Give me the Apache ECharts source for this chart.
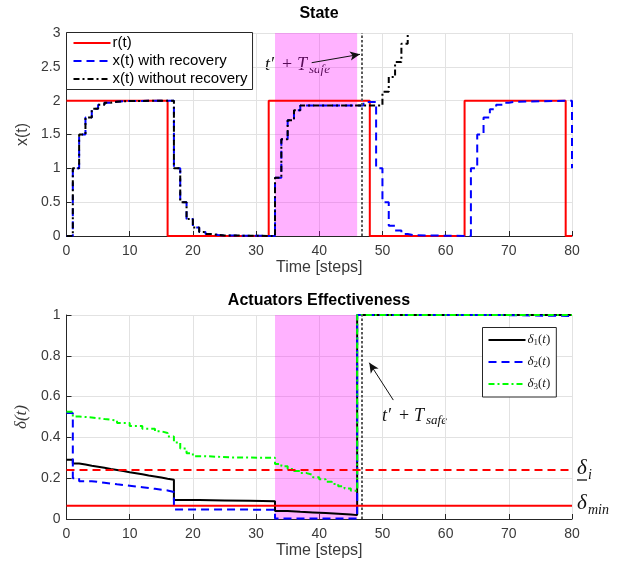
<!DOCTYPE html>
<html><head><meta charset="utf-8">
<script src="https://cdn.jsdelivr.net/npm/echarts@6.0.0/dist/echarts.min.js"></script>
<style>html,body{margin:0;padding:0;background:#fff}#c{width:621px;height:561px}</style>
</head><body><div id="c"></div>
<script>
// ---------- data ----------
const refT = [0,16,32,48,63,79,80];
const refV = [2,0,2,0,2,0,0];
const noRecT = [0,1,2,3,4,5,6,7,8,9,10,17,18,19,20,21,22,23,24,25,33,34,35,36,37,50,51,52,53,54,55];
const noRecV = [0,1,1.5,1.75,1.88,1.94,1.97,1.985,1.99,1.995,2,1,0.5,0.25,0.125,0.06,0.03,0.015,0.008,0,0.86,1.43,1.71,1.86,1.93,2.13,2.35,2.57,2.84,3.15,3.5];
const recT = [0,1,2,3,4,5,6,7,8,9,10,17,18,19,20,21,22,23,24,25,33,34,35,36,37,47,49,50,51,52,53,54,55,64,65,66,67,68,69,70,71,80];
const recV = [0,1,1.5,1.75,1.88,1.94,1.97,1.985,1.99,1.995,2,1,0.5,0.25,0.125,0.06,0.03,0.015,0.008,0,0.86,1.43,1.71,1.86,1.93,1.98,1,0.5,0.15,0.08,0.03,0.01,0,1,1.5,1.75,1.875,1.94,1.97,1.985,2,1];

const d1T = [0,1,2,3,4,5,6,7,8,9,10,11,12,13,14,15,16,17,21,25,29,33,35,37,39,41,43,45,46,80];
const d1V = [0.29,0.272,0.267,0.261,0.256,0.251,0.245,0.24,0.235,0.229,0.224,0.219,0.213,0.208,0.203,0.197,0.192,0.093,0.091,0.089,0.087,0.039,0.035,0.032,0.029,0.026,0.022,0.019,1,1];
const d2T = [0,1,2,4,6,8,10,12,14,16,17,25,33,46,68,80];
const d2V = [0.52,0.2,0.185,0.178,0.17,0.163,0.156,0.148,0.14,0.132,0.047,0.045,0.003,1,0.995,0.995];
const d3T = [0,1,2,4,6,8,10,12,14,15,16,17,18,19,20,22,26,33,34,35,36,37,38,39,40,41,42,43,44,45,46,80];
const d3V = [0.526,0.502,0.498,0.49,0.483,0.47,0.456,0.443,0.43,0.422,0.405,0.375,0.345,0.322,0.308,0.302,0.3,0.27,0.258,0.245,0.235,0.225,0.216,0.205,0.195,0.183,0.172,0.16,0.15,0.138,1,1];

const deltaI = 0.24;
const deltaMin = 0.065;
const faultStart = 33;
const faultEnd = 46;
const tSafe = 46.8;
const xTickStep = 10;
const topYStep = 0.5;
const botYStep = 0.2;

// ---------- helpers ----------
const SANS = '"Liberation Sans", Arial, Helvetica, sans-serif';
const SERIF = '"Liberation Serif", "Times New Roman", serif';
const zip = (t, v) => t.map((x, i) => [x, v[i]]);
const GRAY = '#3a3a3a';

function xAxis(idx) {
  return {
    type: 'value', gridIndex: idx, min: 0, max: 80, interval: xTickStep,
    axisLine: {show: true, onZero: false, lineStyle: {color: '#262626', width: 1}},
    axisTick: {show: true, inside: true, length: 5, lineStyle: {color: '#262626'}},
    axisLabel: {fontSize: 14, color: GRAY, fontFamily: SANS, margin: 8},
    splitLine: {show: true, lineStyle: {color: '#e2e2e2', width: 1}},
    name: 'Time [steps]', nameLocation: 'middle', nameGap: 24,
    nameTextStyle: {fontSize: 16, color: GRAY, fontFamily: SANS}
  };
}
function yAxis(idx, max, step, name, nameStyle) {
  return {
    type: 'value', gridIndex: idx, min: 0, max: max, interval: step,
    axisLine: {show: true, onZero: false, lineStyle: {color: '#262626', width: 1}},
    axisTick: {show: true, inside: true, length: 5, lineStyle: {color: '#262626'}},
    axisLabel: {fontSize: 14, color: GRAY, fontFamily: SANS, margin: 6},
    splitLine: {show: true, lineStyle: {color: '#e2e2e2', width: 1}},
    name: name, nameLocation: 'middle', nameGap: 36, nameRotate: 90,
    nameTextStyle: nameStyle
  };
}
function stepLine(name, idx, data, color, type, z) {
  return {
    name: name, type: 'line', xAxisIndex: idx, yAxisIndex: idx, data: data,
    step: 'end', showSymbol: false, symbol: 'none', clip: true, z: z,
    lineStyle: {color: color, width: 2, type: type, cap: 'butt'},
    itemStyle: {color: color}, animation: false
  };
}
function helper(idx, arrow) {
  return {
    type: 'line', xAxisIndex: idx, yAxisIndex: idx, data: [], z: 1, silent: true,
    animation: false,
    markArea: {silent: true, itemStyle: {color: 'rgba(255,0,255,0.3)'},
      data: [[{xAxis: faultStart}, {xAxis: faultEnd}]]},
    markLine: {silent: true, animation: false, symbol: 'none', label: {show: false},
      data: [
        {xAxis: tSafe, lineStyle: {color: '#5a5a5a', width: 2, type: [2.5, 2]}},
        [{coord: arrow[0], symbol: 'none', lineStyle: {color: '#111', width: 1, type: 'solid'}},
         {coord: arrow[1], symbol: 'arrow', symbolSize: [7, 10]}]
      ]}
  };
}

const DASH = [8, 5];
const DASHDOT = [6, 3, 2, 3];

const option = {
  backgroundColor: '#fff',
  animation: false,
  grid: [
    {left: 66.5, top: 33, width: 505.5, height: 203},
    {left: 66.5, top: 315, width: 505.5, height: 204}
  ],
  xAxis: [xAxis(0), xAxis(1)],
  yAxis: [
    yAxis(0, 3, topYStep, 'x(t)', {fontSize: 16, color: GRAY, fontFamily: SANS}),
    yAxis(1, 1, botYStep, 'δ(t)', {fontSize: 17, color: GRAY, fontFamily: SERIF, fontStyle: 'italic'})
  ],
  legend: [
    {
      data: ['r(t)', 'x(t) with recovery', 'x(t) without recovery'],
      orient: 'vertical', left: 66.5, top: 32.5, itemWidth: 37, itemHeight: 12, itemGap: 3,
      padding: [3, 5, 3, 6], borderColor: '#262626', borderWidth: 1, backgroundColor: '#fff',
      itemStyle: {opacity: 0},
      textStyle: {fontSize: 15, color: '#000', fontFamily: SANS, padding: [0, 0, 0, -3]},
      selectedMode: false, z: 10
    },
    {
      data: ['d1', 'd2', 'd3'],
      orient: 'vertical', left: 482.5, top: 327.5, itemWidth: 37, itemHeight: 14, itemGap: 8.5,
      padding: [6, 6, 6, 5], borderColor: '#262626', borderWidth: 1, backgroundColor: '#fff',
      itemStyle: {opacity: 0},
      formatter: n => '{i|δ}{s|' + n.slice(1) + '}{r|(}{i|t}{r|)}',
      textStyle: {color: '#222', padding: [0, 0, 0, -3], rich: {
        i: {fontFamily: SERIF, fontStyle: 'italic', fontSize: 13, color: '#222'},
        r: {fontFamily: SERIF, fontSize: 13, color: '#222'},
        s: {fontFamily: SERIF, fontSize: 9, color: '#222', padding: [5, 0, 0, 0]}
      }},
      selectedMode: false, z: 10
    }
  ],
  series: [
    helper(0, [[38.8, 2.561], [46.45, 2.685]]),
    helper(1, [[51.72, 0.583], [47.92, 0.766]]),
    stepLine('r(t)', 0, zip(refT, refV), '#ff0000', 'solid', 2),
    stepLine('x(t) with recovery', 0, zip(recT, recV), '#0000ff', DASH, 3),
    stepLine('x(t) without recovery', 0, zip(noRecT, noRecV), '#000000', DASHDOT, 4),
    stepLine('d1', 1, zip(d1T, d1V), '#000000', 'solid', 2),
    stepLine('d2', 1, zip(d2T, d2V), '#0000ff', DASH, 3),
    stepLine('d3', 1, zip(d3T, d3V), '#00ff00', DASHDOT, 4),
    {type: 'line', xAxisIndex: 1, yAxisIndex: 1, data: [[0, deltaI], [80, deltaI]], showSymbol: false,
     symbol: 'none', z: 5, lineStyle: {color: '#ff0000', width: 2, type: DASH}, silent: true},
    {type: 'line', xAxisIndex: 1, yAxisIndex: 1, data: [[0, deltaMin], [80, deltaMin]], showSymbol: false,
     symbol: 'none', z: 5, lineStyle: {color: '#ff0000', width: 2}, silent: true}
  ],
  graphic: []
};

function tsafeLabel(x, y) {
  const it = {fontFamily: SERIF, fontStyle: 'italic', fontSize: 18, fill: '#111', textVerticalAlign: 'middle'};
  return {
    type: 'group', x: x, y: y, children: [
      {type: 'text', x: 0, y: 0, style: Object.assign({text: 't′'}, it)},
      {type: 'text', x: 17, y: 0, style: Object.assign({}, it, {text: '+', fontStyle: 'normal'})},
      {type: 'text', x: 32, y: 0, style: Object.assign({text: 'T'}, it)},
      {type: 'text', x: 44, y: 5, style: Object.assign({}, it, {text: 'safe', fontSize: 13})}
    ]
  };
}
option.graphic = [
  {type: 'text', x: 319, y: 14, style: {text: 'State', fontFamily: SANS, fontWeight: 'bold', fontSize: 16, fill: '#000', textAlign: 'center', textVerticalAlign: 'middle'}},
  {type: 'text', x: 319, y: 301, style: {text: 'Actuators Effectiveness', fontFamily: SANS, fontWeight: 'bold', fontSize: 16, fill: '#000', textAlign: 'center', textVerticalAlign: 'middle'}},
  tsafeLabel(265, 65),
  tsafeLabel(382, 416),
  {type: 'text', x: 577, y: 468, style: {text: 'δ', fontFamily: SERIF, fontStyle: 'italic', fontSize: 21, fill: '#111', textVerticalAlign: 'middle'}},
  {type: 'text', x: 588, y: 475, style: {text: 'i', fontFamily: SERIF, fontStyle: 'italic', fontSize: 14, fill: '#111', textVerticalAlign: 'middle'}},
  {type: 'line', shape: {x1: 577, y1: 480, x2: 587, y2: 480}, style: {stroke: '#111', lineWidth: 1.3}},
  {type: 'text', x: 577, y: 503, style: {text: 'δ', fontFamily: SERIF, fontStyle: 'italic', fontSize: 21, fill: '#111', textVerticalAlign: 'middle'}},
  {type: 'text', x: 588, y: 510, style: {text: 'min', fontFamily: SERIF, fontStyle: 'italic', fontSize: 14, fill: '#111', textVerticalAlign: 'middle'}}
];

const chart = echarts.init(document.getElementById('c'));
chart.setOption(option);
</script></body></html>
